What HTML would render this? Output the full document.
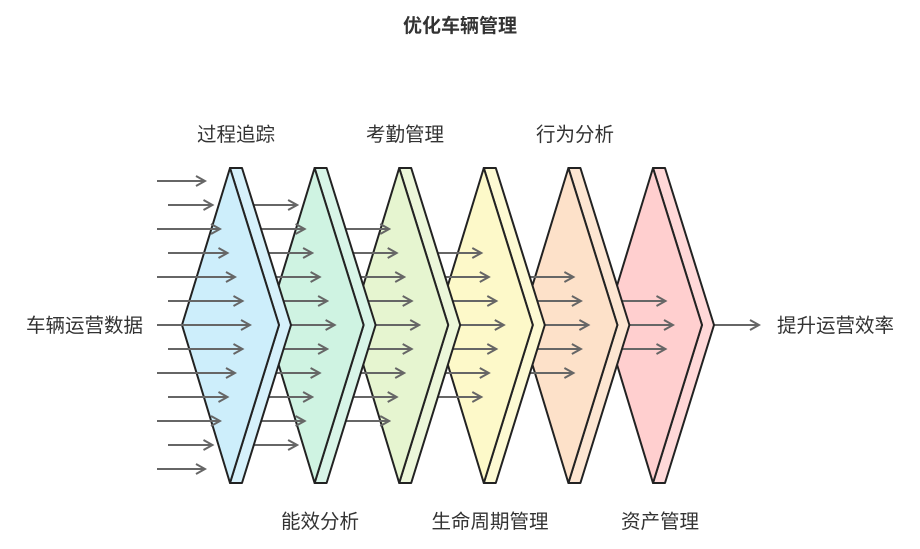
<!DOCTYPE html>
<html><head><meta charset="utf-8"><style>
body{margin:0;background:#fff;}
svg text{font-family:"Liberation Sans","Noto Sans CJK SC",sans-serif;fill:#333;}
</style></head><body>
<svg id="s" width="920" height="544" viewBox="0 0 920 544" xmlns="http://www.w3.org/2000/svg">
<defs><marker id="a" markerWidth="12" markerHeight="12" refX="10" refY="6" orient="auto" markerUnits="userSpaceOnUse"><path d="M1,1 L10,6 L1,11" fill="none" stroke="#666" stroke-width="2"/></marker></defs>
<text x="460" y="32" text-anchor="middle" font-size="19" font-weight="bold">优化车辆管理</text>
<g id="g"></g>
<text x="236" y="141" text-anchor="middle" font-size="19.5">过程追踪</text>
<text x="405" y="141" text-anchor="middle" font-size="19.5">考勤管理</text>
<text x="575" y="141" text-anchor="middle" font-size="19.5">行为分析</text>
<text x="320" y="528" text-anchor="middle" font-size="19.5">能效分析</text>
<text x="490" y="528" text-anchor="middle" font-size="19.5">生命周期管理</text>
<text x="660" y="528" text-anchor="middle" font-size="19.5">资产管理</text>
<text x="143" y="332" text-anchor="end" font-size="19.5">车辆运营数据</text>
<text x="777" y="332" font-size="19.5">提升运营效率</text>
</svg>
<script>
var g=document.getElementById('g'),h='';
var cols=[['#cdeefb','#d6f1fb'],['#cff3e2','#d8f5e8'],['#e6f5d0','#ecf7da'],['#fdf9c9','#fdfad3'],['#fde1c9','#fde6d2'],['#ffcfcf','#ffd8d8']];
for(var k=5;k>=0;k--){
 var x=230+84.6*k;
 h+='<polygon points="'+x+',168 '+(x+12)+',168 '+(x+61)+',325 '+(x+12)+',483 '+x+',483 '+(x+49)+',325" fill="'+cols[k][1]+'" stroke="#222" stroke-width="2" stroke-linejoin="round"/>';
 h+='<polygon points="'+x+',168 '+(x+49)+',325 '+x+',483 '+(x-48)+',325" fill="'+cols[k][0]+'" stroke="#222" stroke-width="2" stroke-linejoin="round"/>';
 var ce=250+84.6*k, n=6-k;
 for(var r=-n;r<=n;r++){
  var y=325+24*r, e=ce-7.5*Math.abs(r);
  var s=(k==0)?(Math.abs(r)%2==0?157:168):(240+84.6*(k-1));
  h+='<line x1="'+s+'" y1="'+y+'" x2="'+e+'" y2="'+y+'" stroke="#666" stroke-width="2" marker-end="url(#a)"/>';
 }
}
h='<line x1="714" y1="325" x2="759" y2="325" stroke="#666" stroke-width="2" marker-end="url(#a)"/>'+h;
g.innerHTML=h;
</script>
</body></html>
